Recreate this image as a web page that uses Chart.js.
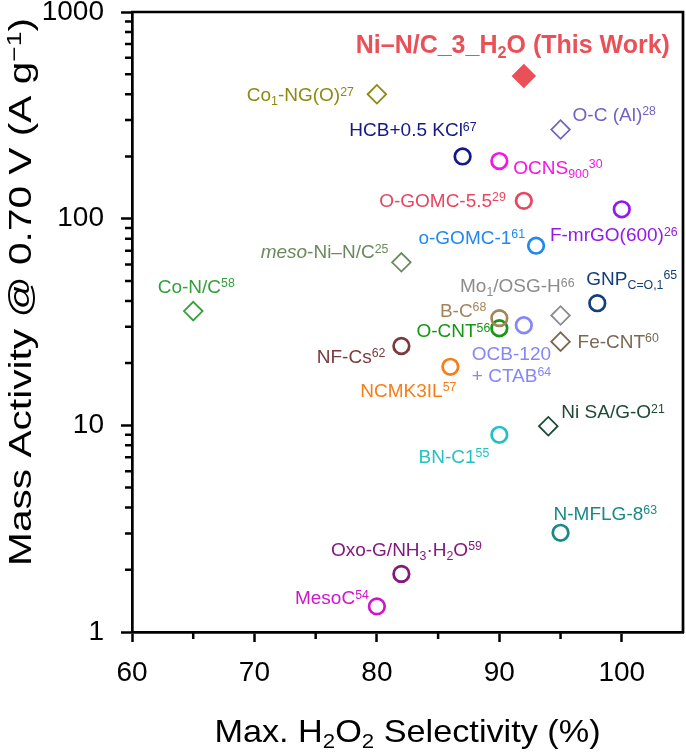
<!DOCTYPE html>
<html>
<head>
<meta charset="utf-8">
<script src="https://cdn.jsdelivr.net/npm/chart.js@4.4.0/dist/chart.umd.min.js"></script>
<style>
  html, body { margin: 0; padding: 0; background: #fff; }
</style>
</head>
<body>
<canvas id="chart" width="686" height="753"></canvas>
<script>
// ^{..} superscript, _{..} subscript, *..* italic, \n new line
var samples = [
  'Ni–N/C_3_H_{2}O (This Work)',
  'Co_{1}-NG(O)^{27}',
  'O-C (Al)^{28}',
  'HCB+0.5 KCl^{67}',
  'OCNS_{900}^{30}',
  'O-GOMC-5.5^{29}',
  'F-mrGO(600)^{26}',
  'o-GOMC-1^{61}',
  '*meso*-Ni–N/C^{25}',
  'Co-N/C^{58}',
  'Mo_{1}/OSG-H^{66}',
  'GNP_{C=O,1}^{65}',
  'B-C^{68}',
  'O-CNT^{56}',
  'OCB-120\n+ CTAB^{64}',
  'Fe-CNT^{60}',
  'NF-Cs^{62}',
  'NCMK3IL^{57}',
  'BN-C1^{55}',
  'Ni SA/G-O^{21}',
  'N-MFLG-8^{63}',
  'Oxo-G/NH_{3}·H_{2}O^{59}',
  'MesoC^{54}'
];
var selectivity = [92, 80, 95, 87, 90, 92, 100, 93, 82, 65, 95, 98, 90, 90, 92, 95, 82, 86, 90, 94, 95, 82, 80];
var massActivity = [490, 400, 270, 200, 190, 122, 111, 74, 61.5, 35.7, 34, 39, 33, 29.5, 30.5, 25.4, 24.2, 19.2, 9, 9.9, 3.02, 1.91, 1.33];
var markers = ['filled', 'diamond', 'diamond', 'circle', 'circle', 'circle', 'circle', 'circle', 'diamond', 'diamond',
  'diamond', 'circle', 'circle', 'circle', 'circle', 'diamond', 'circle', 'circle', 'circle', 'diamond',
  'circle', 'circle', 'circle'];

var xTitle = 'Max. H_{2}O_{2} Selectivity (%)';
var yTitle = 'Mass Activity @ 0.70 V (A g^{−1})';
var yLabels = [1, 10, 100, 1000];

// styles
var colors = ['#ea5058', '#8c8a12', '#7262c4', '#131a85', '#f515e6', '#e84560', '#9418ec', '#2088ee', '#6a8a5c', '#33a03c',
  '#8c8c8c', '#123f7a', '#a48458', '#159615', '#8686f6', '#7a6852', '#7b3a3e', '#f87d16', '#22c2c2', '#1d4a33',
  '#178a88', '#84187f', '#cf16cb'];
var labelPos = [
  [-11, -23, 'center'], [-23, 7, 'right'], [12, -9, 'left'], [14, -20, 'right'], [14, 13, 'left'],
  [-18, 6, 'right'], [-8, 32, 'center'], [-11, -2, 'right'], [-13, -4, 'right'], [3, -18, 'center'],
  [14, -23, 'right'], [-11, -18, 'left'], [-13, -1, 'right'], [-9, 9, 'right'], [-52, 35, 'left'],
  [17, 6, 'left'], [-16, 17, 'right'], [6, 30, 'right'], [-10, 28, 'right'], [13, -8, 'left'],
  [-7, -13, 'left'], [5, -18, 'center'], [-8, -2, 'right']
];
var FONT = '"Liberation Sans", Arial, sans-serif';

function parseRich(str) {
  var segs = [], i = 0, buf = '', italic = false;
  function flush() {
    if (buf) segs.push({ t: buf, mode: 'n', italic: italic });
    buf = '';
  }
  while (i < str.length) {
    var c = str[i];
    if ((c === '^' || c === '_') && str[i + 1] === '{') {
      flush();
      var end = str.indexOf('}', i);
      segs.push({ t: str.slice(i + 2, end), mode: c === '^' ? 'sup' : 'sub', italic: italic });
      i = end + 1;
      continue;
    }
    if (c === '*') { flush(); italic = !italic; i++; continue; }
    buf += c;
    i++;
  }
  flush();
  return segs;
}

function segFont(s, opt) {
  var size = s.mode === 'n' ? opt.size : opt.size * 0.65;
  return (s.italic ? 'italic ' : '') + (opt.bold ? 'bold ' : '') + size + 'px ' + FONT;
}

function drawRich(ctx, text, x, y, opt) {
  ctx.save();
  ctx.translate(x, y);
  if (opt.rotate) ctx.rotate(opt.rotate);
  ctx.scale(opt.stretch || 1, 1);
  ctx.fillStyle = opt.color;
  ctx.textBaseline = 'alphabetic';
  ctx.textAlign = 'left';
  text.split('\n').forEach(function (line, li) {
    var segs = parseRich(line);
    var w = 0;
    segs.forEach(function (s) {
      ctx.font = segFont(s, opt);
      s.w = ctx.measureText(s.t).width;
      w += s.w;
    });
    var cx = opt.align === 'right' ? -w : (opt.align === 'center' ? -w / 2 : 0);
    var ly = li * opt.size * 1.14;
    segs.forEach(function (s) {
      ctx.font = segFont(s, opt);
      var off = s.mode === 'sup' ? -opt.size * 0.3 : (s.mode === 'sub' ? opt.size * 0.2 : 0);
      ctx.fillText(s.t, cx, ly + off);
      cx += s.w;
    });
  });
  ctx.restore();
}

var datasets = samples.map(function (name, i) {
  var m = markers[i];
  return {
    label: name,
    data: [{ x: selectivity[i], y: massActivity[i] }],
    pointStyle: m === 'circle' ? 'circle' : 'rectRot',
    pointRadius: m === 'circle' ? 7.8 : (m === 'filled' ? 11 : 9.3),
    borderWidth: m === 'circle' ? 2.7 : 1.8,
    borderColor: colors[i],
    backgroundColor: m === 'filled' ? colors[i] : 'rgba(0,0,0,0)'
  };
});

var decorPlugin = {
  id: 'decor',
  afterDraw: function (chart) {
    var ctx = chart.ctx, a = chart.chartArea;
    var xs = chart.scales.x, ys = chart.scales.y;
    ctx.save();
    ctx.strokeStyle = '#000';
    ctx.lineWidth = 2.7;
    ctx.beginPath();
    ctx.moveTo(a.left - 1, a.top);
    ctx.lineTo(a.right, a.top);
    ctx.lineTo(a.right, a.bottom + 1);
    ctx.stroke();
    // minor ticks
    ctx.lineWidth = 2.5;
    ctx.beginPath();
    [1, 10, 100].forEach(function (d) {
      for (var k = 2; k <= 9; k++) {
        var py = ys.getPixelForValue(k * d);
        ctx.moveTo(a.left - 7, py);
        ctx.lineTo(a.left, py);
      }
    });
    [65, 75, 85, 95].forEach(function (v) {
      var px = xs.getPixelForValue(v);
      ctx.moveTo(px, a.bottom);
      ctx.lineTo(px, a.bottom + 7);
    });
    ctx.stroke();
    ctx.restore();

    // point labels
    chart.data.datasets.forEach(function (ds, i) {
      var p = chart.getDatasetMeta(i).data[0];
      var lp = labelPos[i];
      drawRich(ctx, samples[i], p.x + lp[0], p.y + lp[1], {
        size: i === 0 ? 25 : 19, bold: i === 0, color: colors[i], align: lp[2]
      });
    });

    // axis titles
    drawRich(ctx, xTitle, (a.left + a.right) / 2, 742, { size: 32, color: '#000', align: 'center', stretch: 1.07 });
    drawRich(ctx, yTitle, 31, 292, { size: 32, color: '#000', align: 'center', stretch: 1.27, rotate: -Math.PI / 2 });
  }
};

new Chart(document.getElementById('chart'), {
  type: 'scatter',
  data: { datasets: datasets },
  options: {
    responsive: false,
    animation: false,
    devicePixelRatio: 1,
    layout: { autoPadding: false, padding: { top: 12, right: 3, left: 0, bottom: 0 } },
    plugins: { legend: { display: false }, tooltip: { enabled: false } },
    scales: {
      x: {
        type: 'linear',
        min: 60,
        max: 105,
        ticks: {
          stepSize: 5,
          autoSkip: false,
          maxRotation: 0,
          padding: 14,
          color: '#000',
          font: { family: FONT, size: 28 },
          callback: function (v) { return v % 10 === 0 ? String(v) : ''; }
        },
        grid: {
          drawOnChartArea: false,
          tickLength: 10,
          tickWidth: 2.5,
          tickColor: function (c) { return c.tick && c.tick.value % 10 === 0 ? '#000' : 'rgba(0,0,0,0)'; }
        },
        border: { color: '#000', width: 2.7 },
        afterFit: function (s) { s.height = 121; s.paddingLeft = 0; s.paddingRight = 0; }
      },
      y: {
        type: 'logarithmic',
        min: 1,
        max: 1000,
        ticks: {
          autoSkip: false,
          padding: 17,
          color: '#000',
          font: { family: FONT, size: 28 },
          callback: function (v) { return yLabels.indexOf(v) >= 0 ? String(v) : ''; }
        },
        grid: {
          drawOnChartArea: false,
          tickLength: 11,
          tickWidth: 2.5,
          tickColor: function (c) {
            return c.tick && yLabels.indexOf(c.tick.value) >= 0 ? '#000' : 'rgba(0,0,0,0)';
          }
        },
        border: { color: '#000', width: 2.7 },
        afterFit: function (s) { s.width = 132; s.paddingTop = 0; s.paddingBottom = 0; }
      }
    }
  },
  plugins: [decorPlugin]
});
</script>
</body>
</html>
